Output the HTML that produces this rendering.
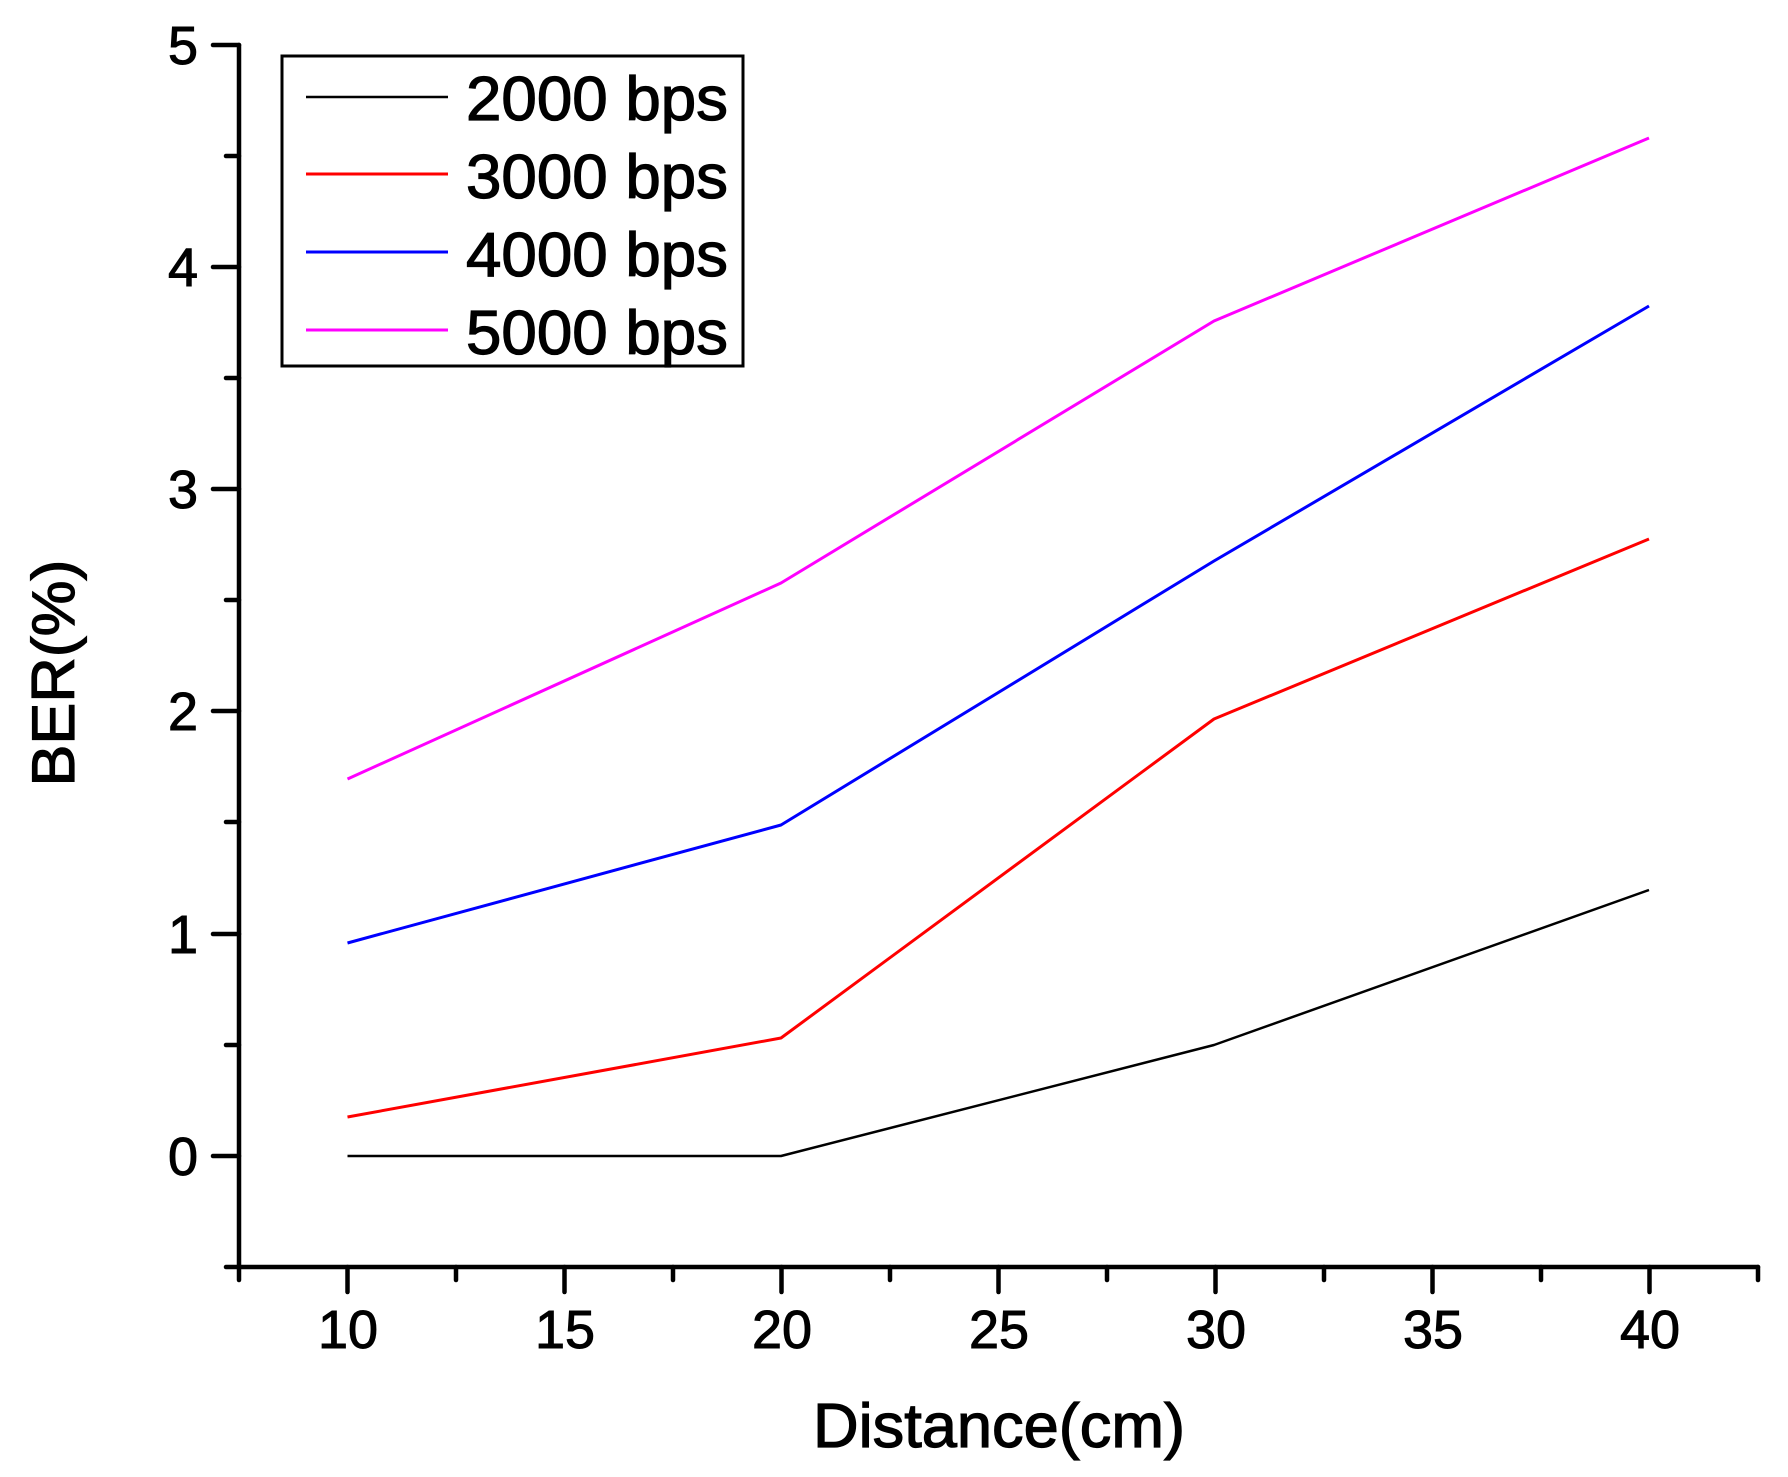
<!DOCTYPE html>
<html><head><style>body{margin:0;background:#fff}svg{display:block}</style></head>
<body>
<svg width="1788" height="1477" xmlns="http://www.w3.org/2000/svg" font-family="Liberation Sans, Arial, sans-serif">
<rect width="1788" height="1477" fill="#fff"/>
<g stroke="#000" stroke-width="4.5" stroke-linecap="round" fill="none">
<line x1="239" y1="45" x2="239" y2="1267"/>
<line x1="239" y1="1267" x2="1758" y2="1267"/>
<line x1="213" y1="45" x2="239" y2="45"/>
<line x1="226" y1="156" x2="239" y2="156"/>
<line x1="213" y1="267" x2="239" y2="267"/>
<line x1="226" y1="378" x2="239" y2="378"/>
<line x1="213" y1="489" x2="239" y2="489"/>
<line x1="226" y1="600" x2="239" y2="600"/>
<line x1="213" y1="711" x2="239" y2="711"/>
<line x1="226" y1="822" x2="239" y2="822"/>
<line x1="213" y1="934" x2="239" y2="934"/>
<line x1="226" y1="1045" x2="239" y2="1045"/>
<line x1="213" y1="1156" x2="239" y2="1156"/>
<line x1="226" y1="1267" x2="239" y2="1267"/>
<line x1="239" y1="1267" x2="239" y2="1280"/>
<line x1="347.5" y1="1267" x2="347.5" y2="1292"/>
<line x1="456" y1="1267" x2="456" y2="1280"/>
<line x1="564.5" y1="1267" x2="564.5" y2="1292"/>
<line x1="673" y1="1267" x2="673" y2="1280"/>
<line x1="781.5" y1="1267" x2="781.5" y2="1292"/>
<line x1="890" y1="1267" x2="890" y2="1280"/>
<line x1="998.5" y1="1267" x2="998.5" y2="1292"/>
<line x1="1107" y1="1267" x2="1107" y2="1280"/>
<line x1="1215.5" y1="1267" x2="1215.5" y2="1292"/>
<line x1="1324" y1="1267" x2="1324" y2="1280"/>
<line x1="1432.5" y1="1267" x2="1432.5" y2="1292"/>
<line x1="1541" y1="1267" x2="1541" y2="1280"/>
<line x1="1649.5" y1="1267" x2="1649.5" y2="1292"/>
<line x1="1758" y1="1267" x2="1758" y2="1280"/>
</g>
<g font-size="54" text-anchor="end" fill="#000" stroke="#000" stroke-width="1">
<text x="198" y="64">5</text>
<text x="198" y="286">4</text>
<text x="198" y="508">3</text>
<text x="198" y="730">2</text>
<text x="198" y="953">1</text>
<text x="198" y="1175">0</text>
</g>
<g font-size="54" text-anchor="middle" fill="#000" stroke="#000" stroke-width="1">
<text x="348" y="1348">10</text>
<text x="565" y="1348">15</text>
<text x="782" y="1348">20</text>
<text x="999" y="1348">25</text>
<text x="1216" y="1348">30</text>
<text x="1433" y="1348">35</text>
<text x="1650" y="1348">40</text>
</g>
<g stroke="#000" stroke-width="1.2">
<text x="999" y="1447" font-size="62" text-anchor="middle" textLength="372" lengthAdjust="spacingAndGlyphs">Distance(cm)</text>
<text transform="translate(74,673) rotate(-90)" font-size="60" text-anchor="middle" textLength="227" lengthAdjust="spacingAndGlyphs">BER(%)</text>
</g>
<g fill="none" stroke-width="3" stroke-linejoin="round">
<polyline stroke="#000" stroke-width="2.5" points="347.5,1156 781,1156 1214,1045 1649,890"/>
<polyline stroke="#ff0000" points="347.5,1117 781,1038 1214,719 1649,539"/>
<polyline stroke="#0000ff" points="347.5,943 781,825 1214,561 1649,306"/>
<polyline stroke="#ff00ff" points="347.5,779 781,583 1214,321 1649,138"/>
</g>
<rect x="282" y="56" width="461" height="310" fill="none" stroke="#000" stroke-width="3"/>
<g stroke-width="3">
<line x1="306" y1="97" x2="448" y2="97" stroke="#000" stroke-width="2.5"/>
<line x1="306" y1="174" x2="448" y2="174" stroke="#ff0000"/>
<line x1="306" y1="252" x2="448" y2="252" stroke="#0000ff"/>
<line x1="306" y1="330" x2="448" y2="330" stroke="#ff00ff"/>
</g>
<g font-size="62" fill="#000" stroke="#000" stroke-width="1.2">
<text x="466" y="120" textLength="262" lengthAdjust="spacingAndGlyphs">2000 bps</text>
<text x="466" y="198" textLength="262" lengthAdjust="spacingAndGlyphs">3000 bps</text>
<text x="466" y="276" textLength="262" lengthAdjust="spacingAndGlyphs">4000 bps</text>
<text x="466" y="354" textLength="262" lengthAdjust="spacingAndGlyphs">5000 bps</text>
</g>
</svg>
</body></html>
